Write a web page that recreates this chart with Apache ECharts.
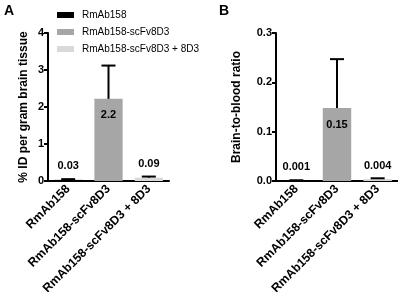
<!DOCTYPE html>
<html>
<head>
<meta charset="utf-8">
<script src="https://cdn.jsdelivr.net/npm/echarts@6/dist/echarts.min.js"></script>
<style>
  html, body { margin: 0; padding: 0; background: #fff; }
  #chart { width: 398px; height: 292px; }
</style>
</head>
<body>
<div id="chart"></div>
<script>
// groups on the x axis (also the legend)
const groups = ['RmAb158', 'RmAb158-scFv8D3', 'RmAb158-scFv8D3 + 8D3']
// panel A: % ID per gram brain tissue
const brainA = [0.03, 2.22, 0.09]
const errA = [0.02, 0.9, 0.03]
const labelA = ['0.03', '2.2', '0.09']
// panel B: brain-to-blood ratio
const ratioB = [0.001, 0.148, 0.004]
const errB = [0.0005, 0.099, 0.0015]
const labelB = ['0.001', '0.15', '0.004']

const colors = ['#000000', '#a6a6a6', '#d9d9d9']
const font = 'Liberation Sans, Arial, sans-serif'

const chart = echarts.init(document.getElementById('chart'))

function barSeries(values, labels, axis) {
  return groups.map((g, i) => ({
    name: g,
    type: 'bar',
    xAxisIndex: axis,
    yAxisIndex: axis,
    barWidth: '70%',
    barGap: '-100%',
    itemStyle: { color: colors[i] },
    data: values.map((v, j) => (j === i ? v : '-')),
    label: {
      show: true,
      position: i === 1 ? 'insideTop' : 'top',
      distance: i === 1 ? 11 : 8,
      color: '#000',
      fontFamily: font,
      fontWeight: 'bold',
      fontSize: 11,
      formatter: p => labels[p.dataIndex]
    }
  }))
}

function errSeries(values, errs, axis) {
  return {
    type: 'custom',
    xAxisIndex: axis,
    yAxisIndex: axis,
    z: 5,
    silent: true,
    encode: { x: 0, y: [1, 2] },
    data: values.map((v, j) => [j, v, v + errs[j]]),
    renderItem(params, api) {
      const base = api.coord([api.value(0), api.value(1)])
      const top = api.coord([api.value(0), api.value(2)])
      const half = 7
      const style = { stroke: '#000', lineWidth: 2 }
      return {
        type: 'group',
        children: [
          { type: 'line', shape: { x1: base[0], y1: base[1], x2: top[0], y2: top[1] }, style },
          { type: 'line', shape: { x1: top[0] - half, y1: top[1], x2: top[0] + half, y2: top[1] }, style }
        ]
      }
    }
  }
}

function xAxis(grid) {
  return {
    type: 'category',
    gridIndex: grid,
    data: groups,
    axisLine: { lineStyle: { color: '#000', width: 2 } },
    axisTick: { alignWithLabel: true, length: 5, lineStyle: { color: '#000', width: 2 } },
    axisLabel: {
      rotate: 45,
      interval: 0,
      margin: 6,
      color: '#000',
      fontFamily: font,
      fontWeight: 'bold',
      fontSize: 12.2
    }
  }
}

function yAxis(grid, max, interval, name, gap, digits) {
  return {
    type: 'value',
    gridIndex: grid,
    min: 0,
    max: max,
    interval: interval,
    name: name,
    nameLocation: 'middle',
    nameGap: gap,
    nameTextStyle: { color: '#000', fontFamily: font, fontWeight: 'bold', fontSize: 12 },
    splitLine: { show: false },
    axisLine: { show: true, lineStyle: { color: '#000', width: 2 } },
    axisTick: { show: true, length: 4, lineStyle: { color: '#000', width: 2 } },
    axisLabel: {
      margin: 4,
      color: '#000',
      fontFamily: font,
      fontWeight: 'bold',
      fontSize: 11,
      formatter: v => v.toFixed(digits)
    }
  }
}

chart.setOption({
  animation: false,
  backgroundColor: '#fff',
  graphic: [
    { type: 'text', left: 4, top: 4, style: { text: 'A', font: 'bold 14px ' + font, fill: '#000' } },
    { type: 'text', left: 219, top: 4, style: { text: 'B', font: 'bold 14px ' + font, fill: '#000' } }
  ],
  legend: {
    orient: 'vertical',
    left: 57,
    top: 9,
    padding: 0,
    itemWidth: 17,
    itemHeight: 6,
    itemGap: 5,
    icon: 'rect',
    data: groups,
    textStyle: { color: '#000', fontFamily: font, fontSize: 10, lineHeight: 12, padding: [0, 0, 0, 3] }
  },
  grid: [
    { left: 48, top: 33, width: 121, height: 148, outerBoundsMode: 'none' },
    { left: 276, top: 33, width: 122, height: 148, outerBoundsMode: 'none' }
  ],
  xAxis: [xAxis(0), xAxis(1)],
  yAxis: [
    yAxis(0, 4, 1, '% ID per gram brain tissue', 18, 0),
    yAxis(1, 0.3, 0.1, 'Brain-to-blood ratio', 33, 1)
  ],
  series: [
    ...barSeries(brainA, labelA, 0),
    ...barSeries(ratioB, labelB, 1),
    errSeries(brainA, errA, 0),
    errSeries(ratioB, errB, 1)
  ]
})
</script>
</body>
</html>
